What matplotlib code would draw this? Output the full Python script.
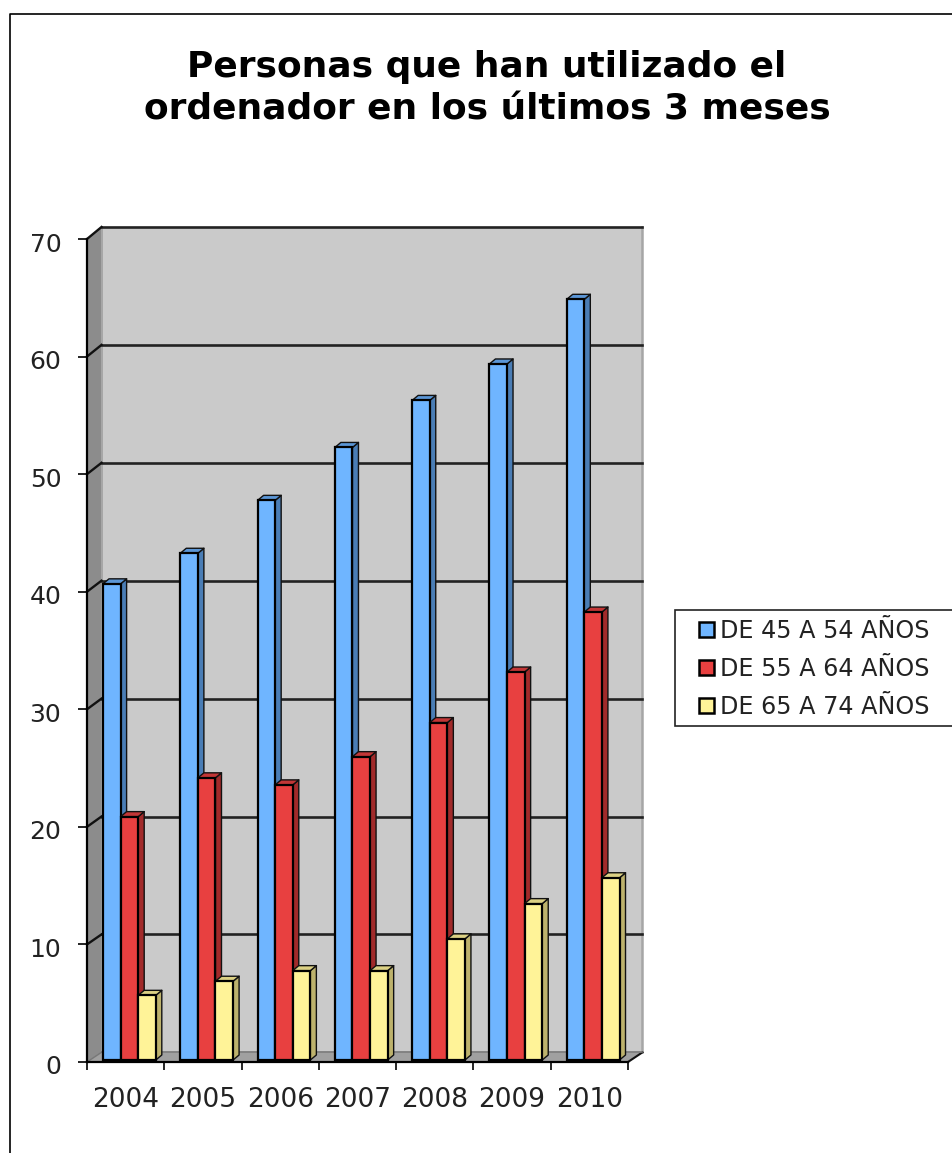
import matplotlib
matplotlib.use('Agg')
import matplotlib.pyplot as plt
from matplotlib.patches import Polygon, Rectangle
from matplotlib.lines import Line2D
from matplotlib.transforms import ScaledTranslation

years = ['2004', '2005', '2006', '2007', '2008', '2009', '2010']
de_45_54 = [40.5, 43.1, 47.6, 52.1, 56.1, 59.2, 64.7]
de_55_64 = [20.7, 24.0, 23.4, 25.8, 28.7, 33.0, 38.1]
de_65_74 = [5.5, 6.7, 7.6, 7.6, 10.3, 13.3, 15.5]
series_names = ['DE 45 A 54 AÑOS', 'DE 55 A 64 AÑOS', 'DE 65 A 74 AÑOS']
y_ticks = [0, 10, 20, 30, 40, 50, 60, 70]

W, H = 952, 1153
PX_X = 541 / 7   # pixels per category
PX_Y = 823 / 70  # pixels per unit

fig = plt.figure(figsize=(W / 100, H / 100), dpi=100, facecolor='white')
ax = fig.add_axes([87 / W, 1 - 1062 / H, 541 / W, 823 / H])
ax.set_xlim(0, 7)
ax.set_ylim(0, 70)
ax.patch.set_visible(False)


def wall_y(t):
    # back wall sits a little higher at the top than at the floor
    return t + (9.7 + 2.3 * t / 70) / PX_Y


# depth of the fake 3d box and of the bars
wall_dx = 14.5 / PX_X
bar_dx, bar_dy = 6 / PX_X, 5 / PX_Y
base = 2 / PX_Y
start = 16 / PX_X
width = 17.6 / PX_X

ax.add_patch(Polygon([(wall_dx, wall_y(0)), (7 + wall_dx, wall_y(0)), (7 + wall_dx, wall_y(70)), (wall_dx, wall_y(70))],
                     facecolor='#cacaca', edgecolor='none', zorder=1, clip_on=False))
ax.add_patch(Polygon([(0, 0), (wall_dx, wall_y(0)), (wall_dx, wall_y(70)), (0, 70)],
                     facecolor='#8c8c8c', edgecolor='none', zorder=1, clip_on=False))
ax.add_patch(Polygon([(0, 0), (7, 0), (7 + wall_dx, wall_y(0)), (wall_dx, wall_y(0))],
                     facecolor='#a0a0a0', edgecolor='none', zorder=1, clip_on=False))
ax.plot([7 + wall_dx, 7 + wall_dx], [wall_y(0), wall_y(70)], color='#a6a6a6', lw=1.8, zorder=1.5, clip_on=False)
ax.plot([wall_dx, wall_dx], [wall_y(0), wall_y(70)], color='#a6a6a6', lw=1.4, zorder=1.5, clip_on=False)

for t in y_ticks:
    if t == 0:
        ax.plot([7, 7 + wall_dx], [0, wall_y(0)], color='#111111', lw=1.5, zorder=2, clip_on=False)
        ax.plot([0, wall_dx], [0, wall_y(0)], color='#777777', lw=1.0, zorder=2, clip_on=False)
        ax.plot([wall_dx, 7 + wall_dx], [wall_y(0), wall_y(0)], color='#777777', lw=1.2, zorder=2, clip_on=False)
    else:
        ax.plot([wall_dx, 7 + wall_dx], [wall_y(t), wall_y(t)], color='#222222', lw=1.9, zorder=2, clip_on=False)
        ax.plot([0, wall_dx], [t, wall_y(t)], color='#111111', lw=1.7, zorder=2, clip_on=False)

styles = [('#6fb5ff', '#4a7db5', '#5b96d6'),
          ('#e84040', '#a12a2a', '#c23636'),
          ('#fff398', '#bdb26c', '#dcd184')]
series = [de_45_54, de_55_64, de_65_74]

for i in range(len(years)):
    for j, values in enumerate(series):
        x0 = i + start + j * width
        top = base + values[i]
        z = 3 + i + j * 0.2
        front, side, cap = styles[j]
        ax.add_patch(Polygon([(x0 + width, base), (x0 + width + bar_dx, base + bar_dy),
                              (x0 + width + bar_dx, top + bar_dy), (x0 + width, top)],
                             facecolor=side, edgecolor='#111111', lw=1.0, zorder=z, clip_on=False, joinstyle='round'))
        ax.add_patch(Polygon([(x0, top), (x0 + width, top), (x0 + width + bar_dx, top + bar_dy), (x0 + bar_dx, top + bar_dy)],
                             facecolor=cap, edgecolor='#111111', lw=1.0, zorder=z, clip_on=False, joinstyle='round'))
        ax.bar(x0, values[i], width, bottom=base, align='edge', color=front, edgecolor='black', lw=1.6,
               zorder=z + 0.05, clip_on=False)

for name in ['top', 'right']:
    ax.spines[name].set_visible(False)
for name in ['left', 'bottom']:
    ax.spines[name].set_linewidth(1.6)
    ax.spines[name].set_zorder(20)

ax.set_yticks(y_ticks)
ax.set_xticks(range(8))
ax.set_xticklabels([])
ax.set_xticks([i + 0.5 for i in range(7)], minor=True)
ax.set_xticklabels(years, minor=True)
ax.tick_params(axis='x', which='major', length=6, width=1.2, color='black')
ax.tick_params(axis='x', which='minor', length=0, labelsize=19, pad=18, labelcolor='#222222')
ax.tick_params(axis='y', length=6.5, width=1.2, labelsize=18, pad=12, labelcolor='#222222')
for label in ax.get_yticklabels():
    label.set_transform(label.get_transform() + ScaledTranslation(0, -3 / 100, fig.dpi_scale_trans))

fig.text(487 / W, 1 - 67 / H, 'Personas que han utilizado el', ha='center', va='center',
         fontsize=25.9, fontweight='bold', color='black')
fig.text(487 / W, 1 - 109 / H, 'ordenador en los últimos 3 meses', ha='center', va='center',
         fontsize=25.9, fontweight='bold', color='black')

# legend frame runs off the right of the picture
fig.add_artist(Rectangle((675 / W, 1 - 726 / H), 300 / W, 116 / H, transform=fig.transFigure,
                         facecolor='white', edgecolor='#222222', lw=1.2))
handles = [Rectangle((0, 0), 1, 1, facecolor=s[0], edgecolor='black', lw=1.8) for s in styles]
leg = fig.legend(handles, series_names, loc='center left', bbox_to_anchor=(699 / W, 1 - 669 / H),
                 frameon=False, fontsize=17.2, handlelength=0.62, handleheight=0.62, handletextpad=0.27,
                 labelspacing=0.58, labelcolor='#222222', borderpad=0, borderaxespad=0)

# page border
fig.add_artist(Line2D([10 / W, 10 / W, 1], [0, 1 - 14 / H, 1 - 14 / H], color='black', lw=1.2, transform=fig.transFigure))

fig.savefig('out.png', dpi=100)
